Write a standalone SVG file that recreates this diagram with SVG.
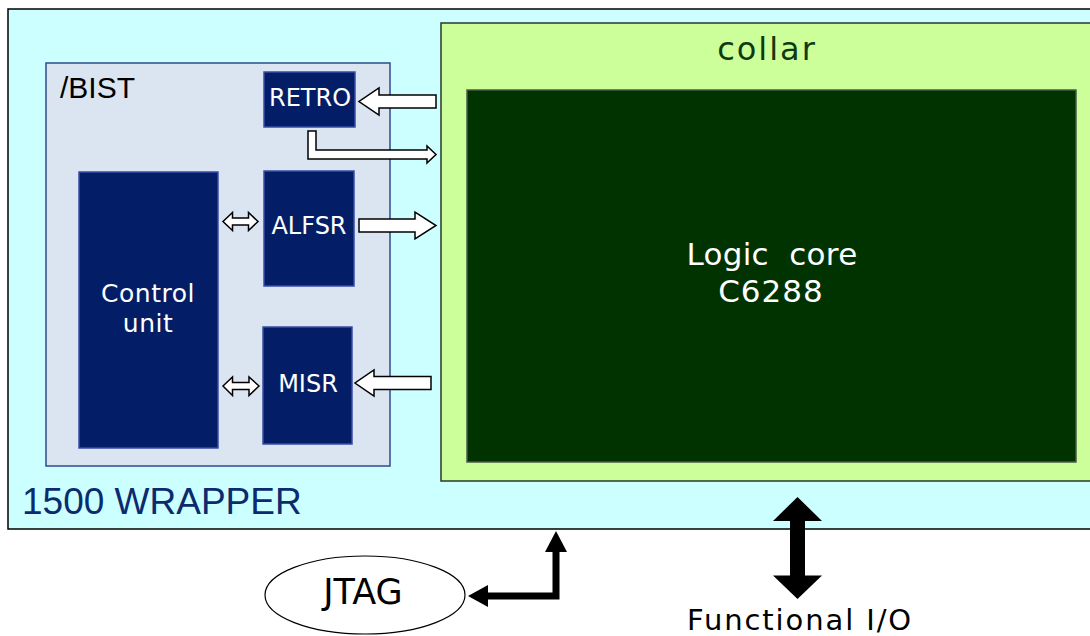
<svg xmlns="http://www.w3.org/2000/svg" width="1090" height="636" viewBox="0 0 1090 636">
  <style>
    .blk { fill: #031E66; stroke: #3A4CA8; stroke-width: 1.5; }
    .lbl { font-family: "DejaVu Sans", Verdana, sans-serif; fill: #ffffff; text-anchor: middle; }
    .barrow { fill: #ffffff; stroke: #000000; stroke-width: 1.5; stroke-linejoin: miter; }
    .thick { fill: none; stroke: #000000; stroke-width: 7; }
    .sans { font-family: "DejaVu Sans", Verdana, sans-serif; }
  </style>

  <rect width="1090" height="636" fill="#ffffff"/>

  <!-- 1500 wrapper -->
  <g id="wrapper">
    <rect x="8" y="9" width="1100" height="520" fill="#CCFFFF" stroke="#000000" stroke-width="1.5"/>
    <text x="22" y="514" font-family="Liberation Sans, Arial, sans-serif" font-size="37" fill="#0B2B6E">1500 WRAPPER</text>
  </g>

  <!-- collar around the core -->
  <g id="collar">
    <rect x="441" y="23" width="660" height="458" fill="#CCFF99" stroke="#2A3A2A" stroke-width="1.5"/>
    <text x="767" y="60" class="sans" font-size="32" letter-spacing="2" fill="#0F3A0F" text-anchor="middle">collar</text>
  </g>

  <!-- logic core -->
  <g id="logic-core">
    <rect x="467" y="90" width="609" height="372" fill="#003300" stroke="#4A5A4A" stroke-width="1.5"/>
    <text x="772" y="265" class="lbl" font-size="31" letter-spacing="0.3" xml:space="preserve">Logic  core</text>
    <text x="771" y="302" class="lbl" font-size="31" letter-spacing="1">C6288</text>
  </g>

  <!-- BIST container -->
  <g id="bist">
    <rect x="46" y="63" width="344" height="403" fill="#DBE4F1" stroke="#2F4A8E" stroke-width="1.5"/>
    <text x="60" y="98" font-family="Liberation Sans, Arial, sans-serif" font-size="30" fill="#000000">/BIST</text>
  </g>

  <g id="retro">
    <rect class="blk" x="264" y="72" width="91" height="55"/>
    <text x="310" y="106" class="lbl" font-size="24">RETRO</text>
  </g>

  <g id="control-unit">
    <rect class="blk" x="79" y="172" width="139" height="276"/>
    <text x="148" y="302" class="lbl" font-size="25" letter-spacing="0.5">Control</text>
    <text x="148" y="332" class="lbl" font-size="25" letter-spacing="0.5">unit</text>
  </g>

  <g id="alfsr">
    <rect class="blk" x="264" y="171" width="90" height="115"/>
    <text x="309" y="234" class="lbl" font-size="24">ALFSR</text>
  </g>

  <g id="misr">
    <rect class="blk" x="263" y="327" width="89" height="117"/>
    <text x="308" y="391.5" class="lbl" font-size="24">MISR</text>
  </g>

  <g id="jtag">
    <ellipse cx="365" cy="595" rx="100" ry="39" fill="#ffffff" stroke="#000000" stroke-width="1.2"/>
    <text x="363" y="604" class="sans" font-size="35" fill="#000000" text-anchor="middle">JTAG</text>
  </g>

  <g id="functional-io">
    <text x="800" y="630" class="sans" font-size="29" letter-spacing="1.9" fill="#000000" text-anchor="middle">Functional I/O</text>
  </g>

  <!-- connectors -->
  <g id="connectors">
    <!-- collar -> RETRO -->
    <polygon class="barrow" points="436,95 379,95 379,88 359,101.5 379,115 379,108 436,108"/>
    <!-- RETRO -> collar (bent) -->
    <polygon class="barrow" points="308,131 316,131 316,150 427,150 427,146 436,154.5 427,163 427,159 308,159"/>
    <!-- ALFSR -> collar -->
    <polygon class="barrow" points="359,219 415,219 415,212 436,225.5 415,239 415,232 359,232"/>
    <!-- collar -> MISR -->
    <polygon class="barrow" points="431,376.5 374,376.5 374,370 355,383 374,396 374,389.5 431,389.5"/>
    <!-- control unit <-> ALFSR -->
    <polygon class="barrow" points="223,221.5 232.5,212.5 232.5,218 248.5,218 248.5,212.5 258,221.5 248.5,230.5 248.5,225 232.5,225 232.5,230.5"/>
    <!-- control unit <-> MISR -->
    <polygon class="barrow" points="223,386 232.5,377 232.5,382.5 249,382.5 249,377 259,386 249,395.5 249,389.5 232.5,389.5 232.5,395.5"/>

    <!-- JTAG <-> wrapper -->
    <polyline class="thick" points="556,550 556,596 486,596"/>
    <polygon points="556,531 567,552 545,552" fill="#000000"/>
    <polygon points="468,596 488,585 488,607" fill="#000000"/>

    <!-- functional I/O -->
    <rect x="790" y="518" width="15" height="60" fill="#000000"/>
    <polygon points="797.5,497 822,521 773,521" fill="#000000"/>
    <polygon points="797.5,599 822,575.5 773,575.5" fill="#000000"/>
  </g>
</svg>
